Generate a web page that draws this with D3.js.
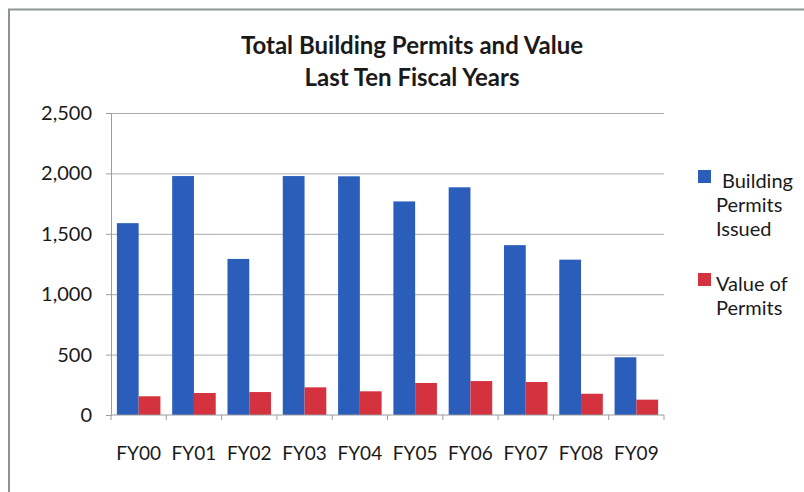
<!DOCTYPE html>
<html>
<head>
<meta charset="utf-8">
<script src="https://cdn.jsdelivr.net/npm/d3@7"></script>
<style>
  body { margin: 0; background: #fff; }
  svg { display: block; font-family: Lato, 'Open Sans', sans-serif; }
  .grid line { stroke: #a9abad; }
  .grid .domain { display: none; }
  .axis path, .axis line { stroke: #9a9c9e; }
  .axis text { fill: #1a1a1a; font-size: 19px; font-family: Lato, sans-serif; }
  .yaxis text { font-size: 20px; }
</style>
</head>
<body>
<svg id="chart" width="804" height="492"></svg>
<script>
// data
const categories = ['FY00', 'FY01', 'FY02', 'FY03', 'FY04', 'FY05', 'FY06', 'FY07', 'FY08', 'FY09'];
const permitsIssued = [1588, 1978, 1292, 1978, 1976, 1768, 1885, 1406, 1286, 478];
const permitValue = [155, 182, 190, 229, 196, 265, 281, 273, 176, 127];
const seriesNames = ['Building Permits Issued', 'Value of Permits'];
const yTicks = [0, 500, 1000, 1500, 2000, 2500];

const width = 804;
const height = 492;
const margin = { top: 113, right: 140, bottom: 77, left: 111 };
const innerWidth = width - margin.left - margin.right;
const innerHeight = height - margin.top - margin.bottom;

const svg = d3.select('#chart');

// outer frame (only top and left edges visible)
svg.append('path')
  .attr('d', `M9,${height} L9,9.5 L${width},9.5`)
  .attr('fill', 'none')
  .attr('stroke', '#8c9494')
  .attr('stroke-width', 2);

// title
const title = svg.append('text')
  .attr('text-anchor', 'middle')
  .attr('font-weight', 'bold')
  .attr('font-size', '24px')
  .attr('fill', '#1a1a1a');
title.append('tspan').attr('x', 412).attr('y', 54).text('Total Building Permits and Value');
title.append('tspan').attr('x', 412).attr('y', 86).text('Last Ten Fiscal Years');

const g = svg.append('g')
  .attr('transform', `translate(${margin.left},${margin.top})`);

const xScale = d3.scaleBand()
  .domain(categories)
  .range([0, innerWidth]);

const xInner = d3.scaleBand()
  .domain(seriesNames)
  .range([0, xScale.bandwidth()])
  .paddingOuter(0.27);

const yScale = d3.scaleLinear()
  .domain([0, 2500])
  .range([innerHeight, 0]);

// gridlines
g.append('g')
  .attr('class', 'grid')
  .call(d3.axisLeft(yScale).tickValues(yTicks.slice(1)).tickSize(-innerWidth).tickFormat(''));

// Y axis
g.append('g')
  .attr('class', 'axis yaxis')
  .call(d3.axisLeft(yScale).tickValues(yTicks).tickSize(5).tickPadding(14).tickFormat(d3.format(',')));

// bars
const colors = ['#2b5dbb', '#d5323f'];
const groups = g.selectAll('g.cat')
  .data(categories.map((c, i) => ({ cat: c, vals: [permitsIssued[i], permitValue[i]] })))
  .enter()
  .append('g')
  .attr('class', 'cat')
  .attr('transform', d => `translate(${xScale(d.cat)},0)`);

groups.selectAll('rect')
  .data(d => d.vals.map((v, j) => ({ name: seriesNames[j], v, j })))
  .enter()
  .append('rect')
  .attr('x', d => xInner(d.name))
  .attr('width', xInner.bandwidth())
  .attr('y', d => yScale(d.v))
  .attr('height', d => innerHeight - yScale(d.v))
  .attr('fill', d => colors[d.j]);

// X axis, ticks between categories
const xAxis = g.append('g')
  .attr('class', 'axis')
  .attr('transform', `translate(0,${innerHeight})`);

xAxis.append('line')
  .attr('x1', 0).attr('x2', innerWidth)
  .attr('stroke', '#9a9c9e');

xAxis.selectAll('line.tick')
  .data(categories.concat(['end']))
  .enter()
  .append('line')
  .attr('class', 'tick')
  .attr('x1', (d, i) => i * xScale.step())
  .attr('x2', (d, i) => i * xScale.step())
  .attr('y1', 0).attr('y2', 5)
  .attr('stroke', '#9a9c9e');

xAxis.selectAll('text')
  .data(categories)
  .enter()
  .append('text')
  .attr('x', d => xScale(d) + xScale.bandwidth() / 2)
  .attr('y', 45)
  .attr('text-anchor', 'middle')
  .text(d => d);

// legend
const legend = svg.append('g').attr('font-size', '20px').attr('fill', '#1a1a1a');
const legendItems = [
  { color: colors[0], y: 170, lines: ['Building', 'Permits', 'Issued'], x0: 722 },
  { color: colors[1], y: 273, lines: ['Value of', 'Permits'], x0: 716 }
];
legendItems.forEach(item => {
  legend.append('rect')
    .attr('x', 698).attr('y', item.y)
    .attr('width', 13).attr('height', 13)
    .attr('fill', item.color);
  item.lines.forEach((t, k) => {
    legend.append('text')
      .attr('x', k === 0 ? item.x0 : 716)
      .attr('y', item.y + 18 + k * 24)
      .text(t);
  });
});
</script>
</body>
</html>
